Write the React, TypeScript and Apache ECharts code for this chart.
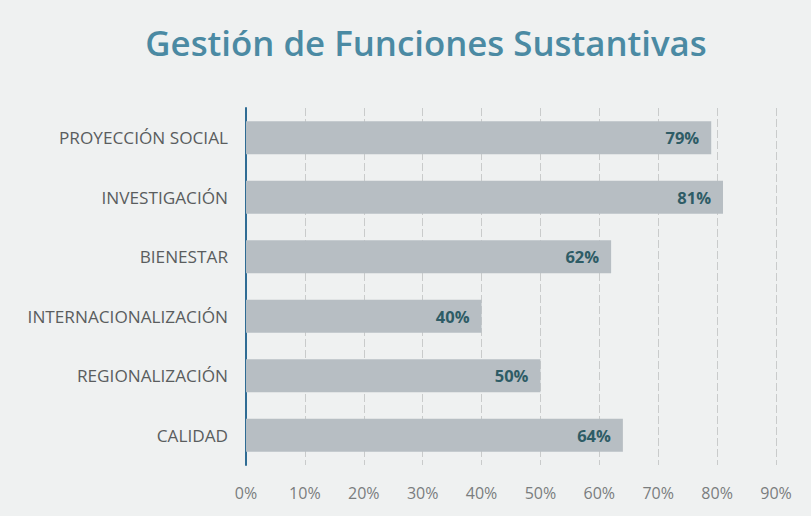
import React, { useEffect, useRef } from "react";
import * as echarts from "echarts";

const categories = [
  "CALIDAD",
  "REGIONALIZACIÓN",
  "INTERNACIONALIZACIÓN",
  "BIENESTAR",
  "INVESTIGACIÓN",
  "PROYECCIÓN SOCIAL",
];
const values = [64, 50, 40, 62, 81, 79];
const title = "Gestión de Funciones Sustantivas";

export default function App() {
  const ref = useRef<HTMLDivElement>(null);
  useEffect(() => {
    if (!ref.current) return;
    const chart = echarts.init(ref.current, null, { renderer: "svg" });
    chart.setOption({
      animation: false,
      backgroundColor: "#eff1f1",
      title: {
        text: title,
        left: 421,
        textAlign: "center",
        top: 20,
        textStyle: {
          color: "#4b8aa3",
          fontSize: 34.8,
          fontWeight: 600,
          fontFamily: "Open Sans, Lato, sans-serif",
        },
      },
      grid: { left: 246, right: 35, top: 108, bottom: 51, containLabel: false },
      xAxis: {
        type: "value",
        min: 0,
        max: 90,
        interval: 10,
        axisLine: { show: false },
        axisTick: { show: false },
        splitLine: { show: true, lineStyle: { color: "#c9cbcb", width: 1, type: [8, 3] } },
        axisLabel: {
          formatter: "{value}%",
          color: "#7a7d7e",
          fontSize: 16,
          margin: 20,
          fontFamily: "Open Sans, sans-serif",
        },
      },
      yAxis: {
        type: "category",
        data: categories,
        axisLine: { show: true, lineStyle: { color: "#2f6c94", width: 2 } },
        axisTick: { show: false },
        axisLabel: {
          color: "#5a5d5e",
          fontSize: 17.2,
          margin: 18,
          fontFamily: "Open Sans, sans-serif",
        },
      },
      series: [
        {
          type: "bar",
          data: values,
          barWidth: 33,
          itemStyle: { color: "#b7bec3" },
          label: {
            show: true,
            position: "insideRight",
            formatter: "{c}%",
            color: "#2e5c66",
            fontWeight: "bold",
            fontSize: 16.5,
            distance: 12,
            fontFamily: "Open Sans, sans-serif",
          },
        },
      ],
    });
    return () => chart.dispose();
  }, []);
  return (
    <div
      ref={ref}
      style={{ position: "fixed", left: 0, top: 0, width: 811, height: 516 }}
    />
  );
}
